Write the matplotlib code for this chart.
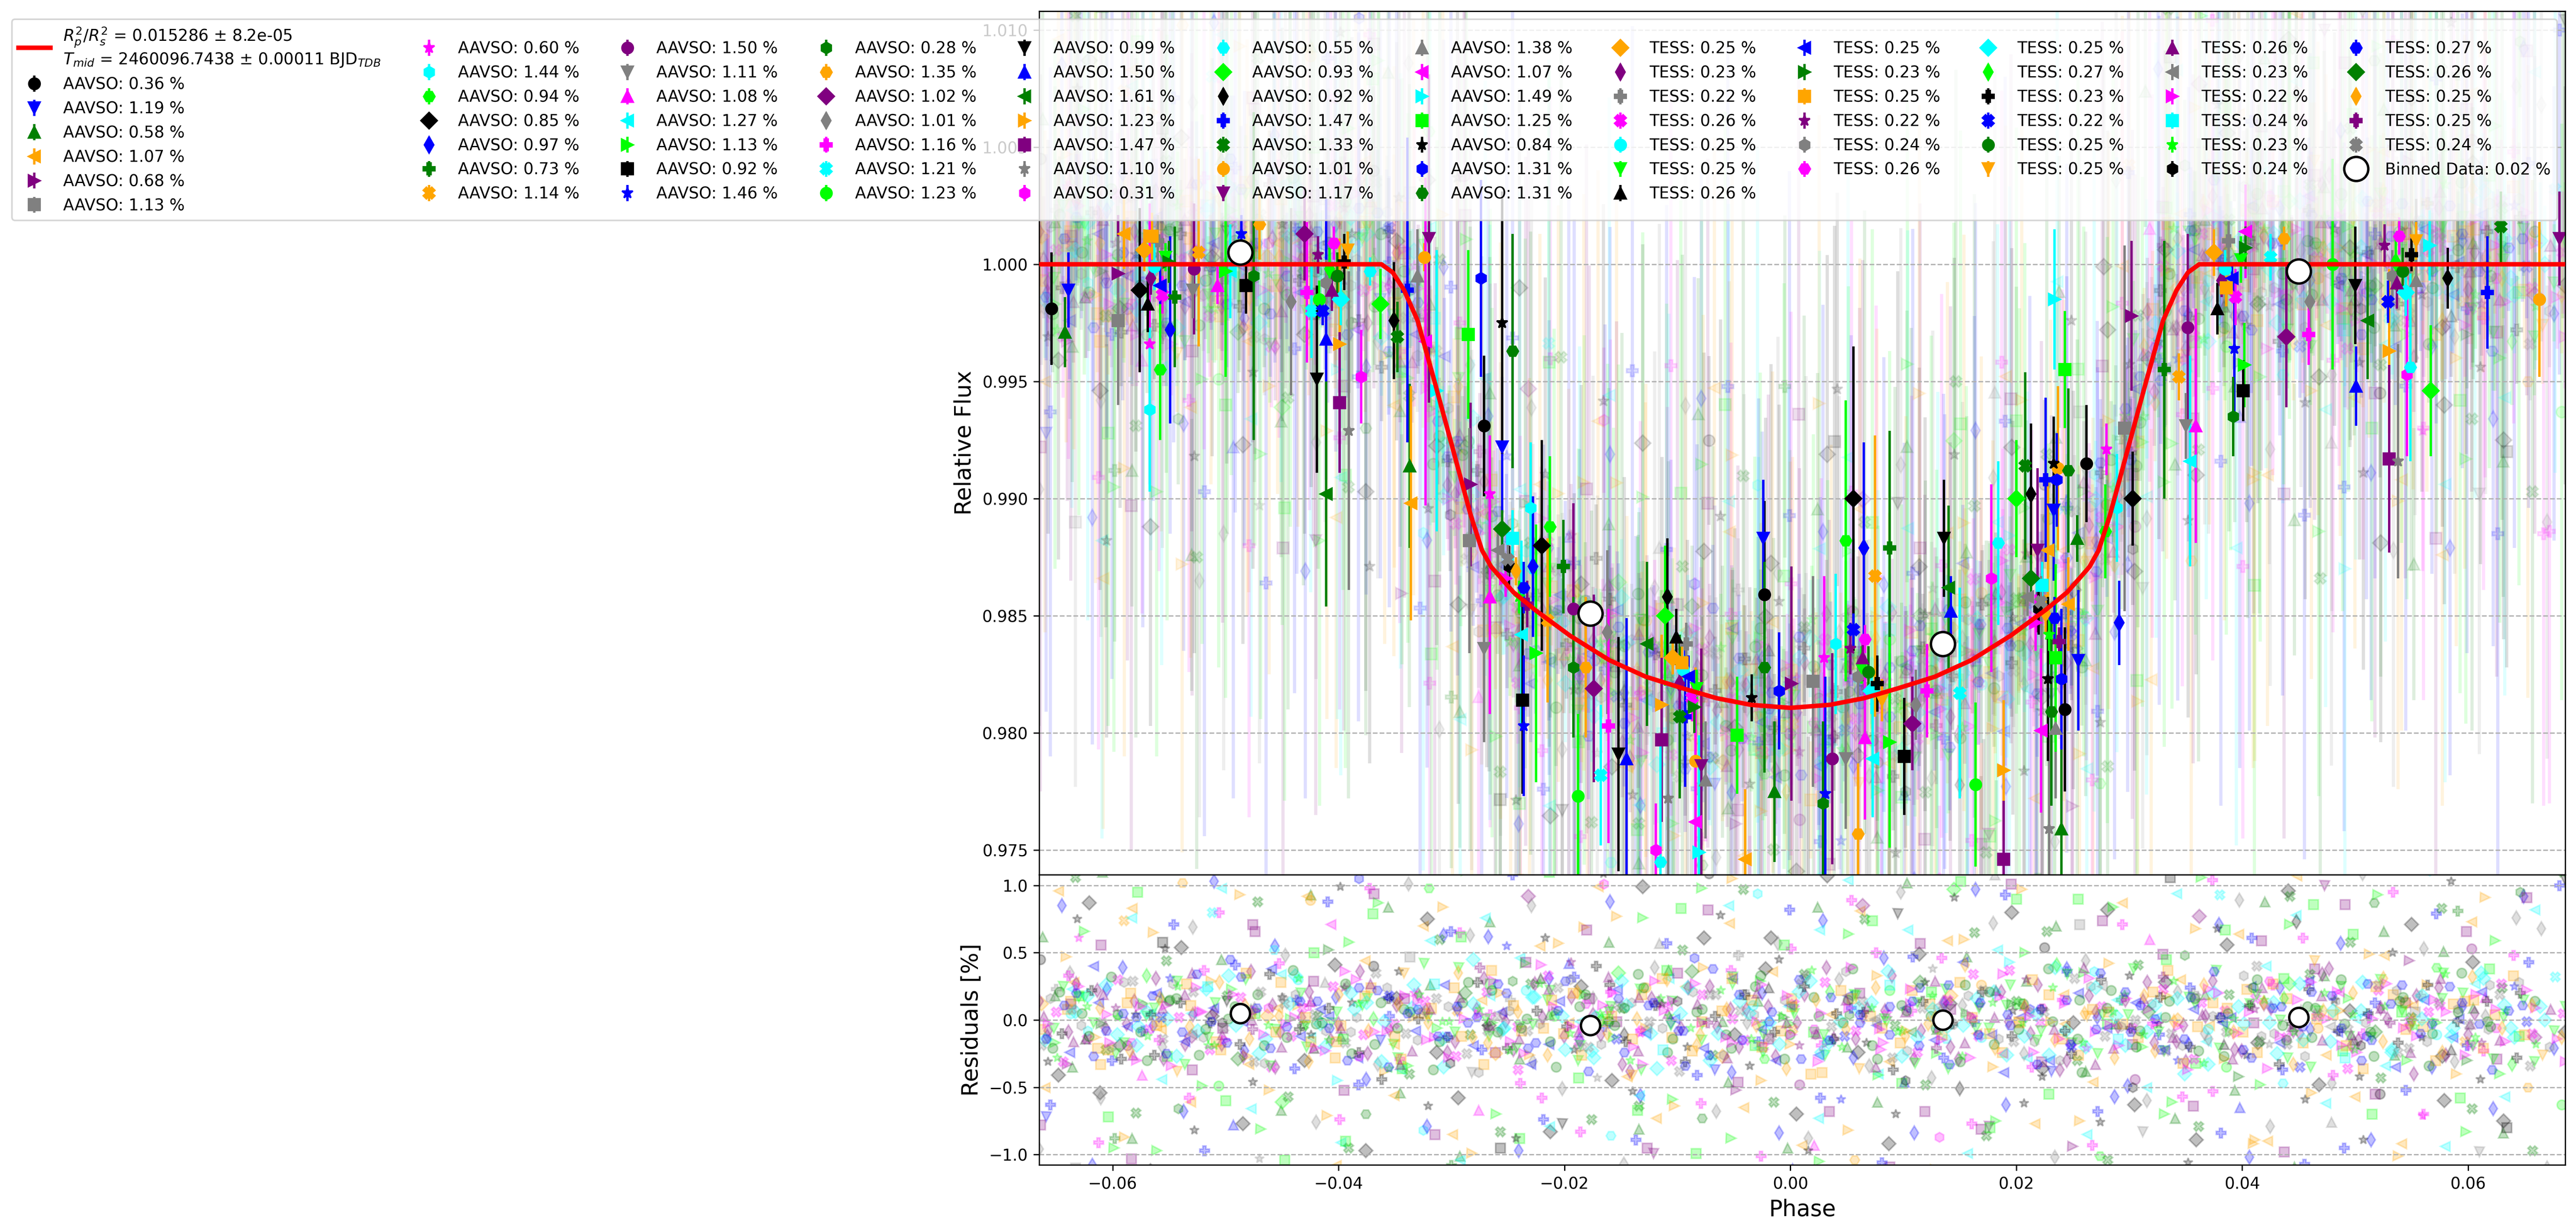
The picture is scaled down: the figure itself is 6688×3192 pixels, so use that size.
import numpy as np
import matplotlib.pyplot as plt

# red transit model
model_phase = [-0.0665, -0.0362, -0.0352, -0.0342, -0.0330, -0.0315, -0.0297, -0.0283, -0.0273,
               -0.0265, -0.0256, -0.0245, -0.0226, -0.0195, -0.0160, -0.0128, -0.0095, -0.0065,
               -0.0035, 0.0, 0.0035, 0.0065, 0.0095, 0.0128, 0.0160, 0.0195, 0.0226, 0.0245,
               0.0256, 0.0265, 0.0273, 0.0283, 0.0297, 0.0315, 0.0330, 0.0342, 0.0352, 0.0362, 0.0686]
model_flux = [1.0, 1.0, 0.99965, 0.9989, 0.9976, 0.9950, 0.9918, 0.9893, 0.9878,
              0.9871, 0.9866, 0.9860, 0.98525, 0.98415, 0.9831, 0.9824, 0.9819, 0.98148,
              0.9812, 0.98107, 0.9812, 0.98148, 0.9819, 0.9824, 0.9831, 0.98415, 0.98525, 0.9860,
              0.9866, 0.9871, 0.9878, 0.9893, 0.9918, 0.9950, 0.9976, 0.9989, 0.99965, 1.0, 1.0]

# scatter of every data set as printed in the legend [%]
aavso_std = [0.36, 1.19, 0.58, 1.07, 0.68, 1.13,
             0.60, 1.44, 0.94, 0.85, 0.97, 0.73, 1.14,
             1.50, 1.11, 1.08, 1.27, 1.13, 0.92, 1.46,
             0.28, 1.35, 1.02, 1.01, 1.16, 1.21, 1.23,
             0.99, 1.50, 1.61, 1.23, 1.47, 1.10, 0.31,
             0.55, 0.93, 0.92, 1.47, 1.33, 1.01, 1.17,
             1.38, 1.07, 1.49, 1.25, 0.84, 1.31, 1.31]
tess_std = [0.25, 0.23, 0.22, 0.26, 0.25, 0.25, 0.26,
            0.25, 0.23, 0.25, 0.22, 0.24, 0.26,
            0.25, 0.27, 0.23, 0.22, 0.25, 0.25,
            0.26, 0.23, 0.22, 0.24, 0.23, 0.24,
            0.27, 0.26, 0.25, 0.25, 0.24]

fit_label = ("$R^{2}_{p}/R^{2}_{s}$ = 0.015286 ± 8.2e-05\n"
             "$T_{mid}$ = 2460096.7438 ± 0.00011 BJD$_{TDB}$")

# combined binned data (white circles)
bin_phase = [-0.0487, -0.0177, 0.0135, 0.0450]
bin_flux = [1.0005, 0.9851, 0.9838, 0.9997]
bin_res = [0.05, -0.04, 0.00, 0.02]
bin_label = "Binned Data: 0.02 %"

# binned points of the single AAVSO data sets
aavso_bin_phase = [
    -0.0654, -0.0639, -0.0642, -0.0590, -0.0595, -0.0595, -0.0567, -0.0567, -0.0558, -0.0576,
    -0.0549, -0.0545, -0.0524, -0.0528, -0.0529, -0.0507, -0.0496, -0.0500, -0.0482, -0.0486,
    -0.0475, -0.0470, -0.0430, -0.0442, -0.0428, -0.0424, -0.0417, -0.0419, -0.0411, -0.0411,
    -0.0399, -0.0399, -0.0391, -0.0380, -0.0372, -0.0363, -0.0351, -0.0339, -0.0348, -0.0324,
    -0.0320, -0.0330, -0.0323, -0.0313, -0.0285, -0.0255, -0.0274, -0.0246, -0.0271, -0.0255,
    -0.0337, -0.0336, -0.0283, -0.0284, -0.0266, -0.0230, -0.0213, -0.0220, -0.0228, -0.0201,
    -0.0215, -0.0192, -0.0271, -0.0266, -0.0238, -0.0225, -0.0237, -0.0236, -0.0192, -0.0181,
    -0.0174, -0.0162, -0.0161, -0.0168, -0.0188, -0.0152, -0.0145, -0.0127, -0.0114, -0.0114,
    -0.0108, -0.0119, -0.0115, -0.0111, -0.0109, -0.0093, -0.0098, -0.0084, -0.0079, -0.0075,
    -0.0084, -0.0081, -0.0047, -0.0034, -0.0010, -0.0023, -0.0023, -0.0024, -0.0014, -0.0040,
    0.0001, 0.0020, 0.0030, 0.0040, 0.0049, 0.0056, 0.0065, 0.0088, 0.0075, 0.0037,
    0.0049, 0.0066, 0.0073, 0.0088, 0.0101, 0.0031, 0.0029, 0.0060, 0.0108, 0.0111,
    0.0121, 0.0150, 0.0164, 0.0136, 0.0142, 0.0140, 0.0189, 0.0189, 0.0229, 0.0178,
    0.0184, 0.0200, 0.0213, 0.0226, 0.0208, 0.0237, 0.0219, 0.0235, 0.0222, 0.0234,
    0.0243, 0.0233, 0.0236, 0.0246, 0.0262, 0.0233, 0.0254, 0.0228, 0.0302, 0.0296,
    0.0280, 0.0289, 0.0279, 0.0303, 0.0291, 0.0331, 0.0344, 0.0352, 0.0350, 0.0359,
    0.0354, 0.0402, 0.0401, 0.0393, 0.0392, 0.0437, 0.0439, 0.0460, 0.0459, 0.0425,
    0.0480, 0.0500, 0.0501, 0.0511, 0.0530, 0.0530, 0.0538, 0.0546, 0.0549, 0.0567,
    0.0582, 0.0617, 0.0629, 0.0663, 0.0681, 0.0554, 0.0403, 0.0566, 0.0235, 0.0228,
    0.0240, 0.0231, 0.0243, 0.0255, 0.0240, 0.0246]
aavso_bin_flux = [
    0.9981, 0.9989, 0.9971, 1.0013, 0.9996, 0.9976, 0.9966, 0.9938, 0.9955, 0.9989,
    0.9972, 0.9986, 1.0005, 0.9998, 0.9989, 0.9991, 0.9997, 0.9997, 0.9991, 1.0013,
    0.9995, 1.0017, 1.0013, 0.9984, 0.9988, 0.9980, 0.9985, 0.9951, 0.9968, 0.9902,
    0.9966, 0.9941, 0.9929, 0.9952, 0.9997, 0.9983, 0.9976, 0.9989, 0.9969, 1.0003,
    1.0011, 0.9995, 0.9967, 0.9946, 0.9970, 0.9975, 0.9994, 0.9963, 0.9931, 0.9922,
    0.9914, 0.9898, 0.9906, 0.9882, 0.9902, 0.9896, 0.9888, 0.9880, 0.9871, 0.9871,
    0.9848, 0.9853, 0.9836, 0.9858, 0.9842, 0.9834, 0.9814, 0.9803, 0.9828, 0.9828,
    0.9819, 0.9843, 0.9803, 0.9782, 0.9773, 0.9791, 0.9789, 0.9838, 0.9812, 0.9797,
    0.9772, 0.9750, 0.9745, 0.9850, 0.9858, 0.9807, 0.9807, 0.9788, 0.9786, 0.9780,
    0.9762, 0.9749, 0.9799, 0.9815, 0.9818, 0.9828, 0.9859, 0.9883, 0.9775, 0.9746,
    0.9821, 0.9822, 0.9832, 0.9838, 0.9882, 0.9900, 0.9879, 0.9879, 0.9867, 0.9789,
    0.9789, 0.9798, 0.9789, 0.9796, 0.9790, 0.9774, 0.9770, 0.9757, 0.9804, 0.9812,
    0.9818, 0.9817, 0.9778, 0.9883, 0.9852, 0.9862, 0.9784, 0.9746, 0.9759, 0.9866,
    0.9881, 0.9900, 0.9902, 0.9908, 0.9914, 0.9913, 0.9878, 0.9802, 0.9801, 0.9985,
    0.9955, 0.9915, 0.9908, 0.9912, 0.9915, 0.9895, 0.9883, 0.9878, 0.9978, 0.9930,
    0.9921, 0.9896, 0.9886, 0.9900, 0.9847, 0.9955, 0.9952, 0.9973, 0.9931, 0.9931,
    0.9916, 0.9957, 0.9946, 0.9964, 0.9935, 1.0011, 0.9969, 0.9984, 0.9970, 1.0003,
    1.0000, 0.9991, 0.9948, 0.9976, 0.9963, 0.9917, 0.9916, 0.9953, 0.9956, 0.9946,
    0.9994, 0.9988, 1.0016, 0.9985, 1.0011, 0.9993, 1.0014, 1.0008, 0.9832, 0.9823,
    0.9823, 0.9809, 0.9810, 0.9831, 0.9759, 0.9855]
aavso_bin_err = [
    0.0024, 0.0016, 0.0015, 0.0015, 0.0025, 0.0036, 0.0060, 0.0035, 0.0030, 0.0035,
    0.0040, 0.0030, 0.0040, 0.0028, 0.0012, 0.0008, 0.0020, 0.0045, 0.0012, 0.0008,
    0.0070, 0.0015, 0.0020, 0.0040, 0.0030, 0.0020, 0.0008, 0.0040, 0.0060, 0.0048,
    0.0045, 0.0030, 0.0068, 0.0020, 0.0006, 0.0015, 0.0025, 0.0065, 0.0015, 0.0006,
    0.0070, 0.0020, 0.0070, 0.0060, 0.0036, 0.0056, 0.0042, 0.0050, 0.0030, 0.0030,
    0.0035, 0.0050, 0.0035, 0.0048, 0.0025, 0.0028, 0.0030, 0.0045, 0.0030, 0.0020,
    0.0035, 0.0045, 0.0040, 0.0050, 0.0040, 0.0055, 0.0040, 0.0030, 0.0030, 0.0030,
    0.0040, 0.0035, 0.0050, 0.0030, 0.0035, 0.0050, 0.0060, 0.0035, 0.0030, 0.0035,
    0.0040, 0.0020, 0.0050, 0.0030, 0.0025, 0.0030, 0.0035, 0.0040, 0.0050, 0.0025,
    0.0050, 0.0050, 0.0025, 0.0010, 0.0025, 0.0045, 0.0040, 0.0025, 0.0030, 0.0030,
    0.0050, 0.0045, 0.0035, 0.0030, 0.0060, 0.0065, 0.0045, 0.0050, 0.0060, 0.0045,
    0.0030, 0.0035, 0.0025, 0.0045, 0.0025, 0.0050, 0.0035, 0.0030, 0.0020, 0.0015,
    0.0020, 0.0045, 0.0035, 0.0025, 0.0015, 0.0035, 0.0030, 0.0025, 0.0040, 0.0040,
    0.0035, 0.0025, 0.0030, 0.0035, 0.0040, 0.0035, 0.0035, 0.0030, 0.0035, 0.0030,
    0.0025, 0.0020, 0.0020, 0.0035, 0.0025, 0.0030, 0.0010, 0.0030, 0.0032, 0.0078,
    0.0011, 0.0023, 0.0020, 0.0020, 0.0018, 0.0055, 0.0010, 0.0040, 0.0014, 0.0050,
    0.0045, 0.0018, 0.0013, 0.0030, 0.0017, 0.0005, 0.0030, 0.0020, 0.0013, 0.0010,
    0.0045, 0.0025, 0.0017, 0.0025, 0.0035, 0.0040, 0.0050, 0.0035, 0.0040, 0.0028,
    0.0013, 0.0024, 0.0015, 0.0033, 0.0020, 0.0035, 0.0020, 0.0015, 0.0040, 0.0035,
    0.0030, 0.0040, 0.0035, 0.0030, 0.0050, 0.0020]

# binned points of the single TESS data sets (tight groups)
tess_bin_phase = [
    -0.0572, -0.0566, -0.0560, -0.0556, -0.0563, -0.0553, -0.0569, -0.0558, -0.0550, -0.0565,
    -0.0418, -0.0411, -0.0404, -0.0398, -0.0408, -0.0395, -0.0414, -0.0401, -0.0392, -0.0406,
    -0.0259, -0.0252, -0.0246, -0.0240, -0.0249, -0.0236, -0.0255, -0.0243, -0.0233, -0.0250,
    -0.0104, -0.0098, -0.0092, -0.0087, -0.0095, -0.0083, -0.0101, -0.0090, -0.0085, -0.0096,
    0.0053, 0.0060, 0.0066, 0.0072, 0.0063, 0.0077, 0.0056, 0.0069, 0.0081, 0.0064,
    0.0210, 0.0217, 0.0223, 0.0229, 0.0220, 0.0234, 0.0213, 0.0226, 0.0238, 0.0222,
    0.0375, 0.0382, 0.0388, 0.0394, 0.0385, 0.0399, 0.0378, 0.0391, 0.0403, 0.0386,
    0.0526, 0.0533, 0.0539, 0.0545, 0.0536, 0.0550, 0.0529, 0.0542, 0.0554, 0.0537]
tess_bin_flux = [
    1.0006, 0.9994, 1.0010, 0.9987, 0.9999, 1.0003, 0.9983, 0.9991, 1.0001, 1.0012,
    1.0004, 0.9992, 1.0009, 0.9985, 0.9998, 1.0001, 0.9980, 0.9995, 1.0006, 0.9989,
    0.9878, 0.9866, 0.9883, 0.9858, 0.9871, 0.9862, 0.9887, 0.9869, 0.9855, 0.9874,
    0.9832, 0.9821, 0.9838, 0.9815, 0.9827, 0.9819, 0.9841, 0.9824, 0.9811, 0.9830,
    0.9836, 0.9824, 0.9840, 0.9818, 0.9829, 0.9821, 0.9844, 0.9826, 0.9814, 0.9832,
    0.9858, 0.9847, 0.9863, 0.9842, 0.9853, 0.9849, 0.9866, 0.9851, 0.9839, 0.9856,
    1.0005, 0.9993, 1.0010, 0.9986, 0.9998, 1.0002, 0.9981, 0.9994, 1.0007, 0.9990,
    1.0008, 0.9995, 1.0012, 0.9988, 1.0001, 1.0004, 0.9984, 0.9997, 1.0010, 0.9992]
tess_bin_err = [
    0.0009, 0.0007, 0.0011, 0.0008, 0.0010, 0.0006, 0.0012, 0.0008, 0.0009, 0.0010,
    0.0008, 0.0010, 0.0007, 0.0011, 0.0009, 0.0012, 0.0006, 0.0010, 0.0008, 0.0009,
    0.0010, 0.0008, 0.0012, 0.0007, 0.0009, 0.0011, 0.0008, 0.0006, 0.0010, 0.0009,
    0.0007, 0.0011, 0.0009, 0.0010, 0.0006, 0.0008, 0.0012, 0.0009, 0.0011, 0.0007,
    0.0011, 0.0009, 0.0006, 0.0010, 0.0008, 0.0012, 0.0007, 0.0011, 0.0009, 0.0010,
    0.0008, 0.0012, 0.0010, 0.0007, 0.0011, 0.0009, 0.0010, 0.0008, 0.0006, 0.0011,
    0.0010, 0.0007, 0.0009, 0.0012, 0.0008, 0.0010, 0.0011, 0.0007, 0.0009, 0.0008,
    0.0009, 0.0011, 0.0008, 0.0010, 0.0012, 0.0007, 0.0009, 0.0010, 0.0008, 0.0011]

# unbinned points: phase [1e-4] and residual [0.01 %]
aavso_raw_phase = [
    -664, -659, -651, -648, -640, -633, -630, -622, -615, -611,
    -605, -598, -590, -587, -580, -574, -566, -561, -556, -549,
    -542, -538, -530, -523, -519, -512, -506, -499, -493, -488,
    -481, -474, -470, -462, -457, -450, -443, -439, -431, -425,
    -420, -412, -407, -401, -394, -388, -382, -376, -369, -363,
    -356, -351, -344, -337, -333, -325, -320, -313, -307, -300,
    -295, -289, -282, -276, -270, -264, -257, -251, -246, -239,
    -232, -228, -220, -214, -209, -202, -196, -190, -183, -178,
    -171, -165, -159, -152, -147, -140, -134, -128, -121, -116,
    -109, -103, -97, -91, -85, -78, -72, -67, -60, -54,
    -48, -41, -36, -29, -23, -17, -10, -5, 2, 8,
    14, 21, 26, 33, 39, 45, 52, 57, 64, 70,
    76, 83, 88, 95, 101, 107, 114, 119, 126, 132,
    138, 145, 150, 157, 163, 169, 176, 181, 188, 194,
    200, 207, 212, 219, 225, 231, 238, 243, 250, 256,
    262, 269, 274, 281, 287, 293, 300, 305, 312, 318,
    324, 331, 336, 343, 349, 355, 362, 367, 374, 380,
    386, 393, 398, 405, 411, 417, 424, 429, 436, 442,
    448, 455, 460, 467, 473, 479, 486, 491, 498, 504,
    510, 517, 522, 529, 535, 541, 548, 553, 560, 566,
    572, 579, 584, 591, 597, 603, 610, 615, 622, 628,
    634, 641, 646, 653, 659, 665, 672, 677, 683, 686]
aavso_raw_res = [
    45, -72, 18, 96, -33, -110, 61, -8, 127, -54,
    23, -88, 74, -19, 140, -41, 5, -97, 58, 31,
    -66, 102, -12, -135, 37, 80, -49, 14, -78, 115,
    -27, 66, -103, 9, 52, -61, 122, -36, -4, 89,
    -118, 28, 71, -45, -90, 13, 105, -70, 40, -15,
    84, -56, -131, 47, 20, -82, 98, -24, 63, -108,
    7, 134, -39, -67, 76, -2, -95, 55, 29, -120,
    92, -31, -58, 118, 3, -77, 42, -138, 69, 16,
    -43, 101, -86, 35, -11, 128, -64, 24, -99, 57,
    11, -125, 83, -20, 46, -73, 109, -37, -1, 72,
    -52, 19, -116, 94, -29, 61, -84, 137, -7, -48,
    30, -93, 67, -17, 112, -59, 4, -104, 85, -34,
    50, -128, 22, 79, -46, -9, 123, -68, 38, -87,
    -14, 97, -51, -136, 65, 26, -79, 108, -25, 43,
    90, -62, 8, -112, 54, -38, 131, -3, -94, 71,
    -21, 36, -101, 82, -57, 15, 119, -44, -83, 60,
    2, -70, 106, -30, 48, -124, 77, -10, -53, 93,
    -35, 126, -65, 10, -89, 59, -18, 115, -47, 27,
    73, -107, 34, -6, 100, -76, 21, -130, 64, -42,
    -12, 87, -55, 139, -26, -92, 44, 6, -71, 111,
    39, -60, -121, 81, -16, 53, -98, 17, 133, -40,
    -80, 25, 95, -50, -13, 68, -114, 32, -63, 104]
tess_raw_phase = [
    -663, -657, -650, -644, -637, -630, -624, -617, -610, -604,
    -597, -590, -583, -577, -570, -563, -557, -550, -543, -536,
    -530, -523, -516, -510, -503, -496, -489, -483, -476, -469,
    -463, -456, -449, -442, -436, -429, -422, -416, -409, -402,
    -395, -389, -382, -375, -369, -362, -355, -348, -342, -335,
    -328, -322, -315, -308, -301, -295, -288, -281, -275, -268,
    -261, -254, -248, -241, -234, -228, -221, -214, -207, -201,
    -194, -187, -181, -174, -167, -160, -154, -147, -140, -134,
    -127, -120, -113, -107, -100, -93, -87, -80, -73, -66,
    -60, -53, -46, -40, -33, -26, -19, -13, -6, 1,
    8, 14, 21, 28, 35, 41, 48, 55, 61, 68,
    75, 82, 88, 95, 102, 108, 115, 122, 129, 135,
    142, 149, 155, 162, 169, 176, 182, 189, 196, 202,
    209, 216, 223, 229, 236, 243, 249, 256, 263, 270,
    276, 283, 290, 296, 303, 310, 317, 323, 330, 337,
    343, 350, 357, 364, 370, 377, 384, 390, 397, 404,
    411, 417, 424, 431, 437, 444, 451, 458, 464, 471,
    478, 484, 491, 498, 505, 511, 518, 525, 531, 538,
    545, 552, 558, 565, 572, 578, 585, 592, 599, 605,
    612, 619, 625, 632, 639, 646, 652, 659, 666, 673]
tess_raw_res = [
    12, -8, 23, -31, 5, 17, -14, 40, -3, -22,
    9, 28, -17, -5, 33, -26, 2, 14, -38, 19,
    -11, 6, 25, -19, -2, 45, -29, 11, -7, 21,
    3, -35, 16, -12, 30, -4, -21, 8, 52, -16,
    24, -9, -27, 13, 1, -44, 18, -6, 35, -23,
    7, -15, 27, -1, -32, 10, 20, -13, 39, -8,
    -25, 4, 15, -37, 22, -3, 31, -18, 6, -10,
    43, -20, 12, -28, 0, 26, -14, 9, -41, 17,
    -6, 29, -22, 3, 14, -34, 36, -11, -2, 19,
    -27, 8, 48, -15, 11, -5, 24, -30, 2, 16,
    -19, 33, -7, -24, 21, 5, -12, 38, -36, 10,
    1, -17, 26, -9, -45, 14, 28, -3, -21, 7,
    18, -29, 4, 34, -13, -6, 22, -39, 12, -1,
    30, -16, 9, -26, 41, -8, -20, 15, 3, -33,
    25, -4, -14, 19, -50, 11, 6, -23, 32, -10,
    0, -31, 20, 13, -7, 37, -18, 2, -42, 23,
    8, -12, 29, -25, 16, -3, -35, 10, 44, -15,
    -5, 21, -28, 4, -19, 27, -9, 31, -2, -24,
    13, -40, 18, 6, -11, 35, -22, 1, -30, 15,
    -17, 26, -6, 11, -33, 20, -1, 14, -26, 8]

# further visits sampled at a steady cadence: phase span and residuals [0.01 %]
visit_tess_span = [(-0.0665, 0.0600), (-0.0652, 0.0686), (-0.0640, 0.0650), (-0.0660, 0.0668),
                   (-0.0647, 0.0620), (-0.0657, 0.0679), (-0.0643, 0.0636), (-0.0663, 0.0655),
                   (-0.0650, 0.0684), (-0.0638, 0.0612), (-0.0655, 0.0672), (-0.0645, 0.0643),
                   (-0.0661, 0.0628), (-0.0649, 0.0660), (-0.0611, 0.0683), (-0.0658, 0.0606),
                   (-0.0644, 0.0676), (-0.0664, 0.0640), (-0.0622, 0.0664), (-0.0653, 0.0617),
                   (-0.0605, 0.0686), (-0.0659, 0.0648)]
visit_tess_res = [
    [14, -9, 22, -3, 31, -18, 6, -27, 11, 2, -15, 36, -7, 19, -24, 8, -1, 27, -12, 4, -33, 16, -6, 25, -20,
     10, -2, 39, -14, 7, -29, 13, 0, 21, -10, -37, 18, -5, 28, -16, 3, -22, 12, -8, 34, -19, 9, -4, 24, -11],
    [-6, 17, -25, 3, 29, -13, 8, -34, 20, -2, 11, -18, 42, -9, 1, -21, 15, -30, 6, 23, -4, -15, 32, -11, 5,
     -26, 18, -1, 13, -36, 9, 26, -8, -17, 4, 38, -23, 12, -5, 19, -28, 7, -12, 30, -3, 16, -19, 2, -31, 10],
    [8, -21, 13, -4, 27, -16, 35, -9, 2, -28, 18, -12, 5, 24, -33, 11, -6, 20, -1, -14, 31, -23, 7, 15, -8,
     -40, 22, 3, -17, 12, 28, -10, -2, 19, -26, 6, -13, 37, -5, 9, -24, 16, 1, -19, 25, -7, -30, 14, 4, -11],
    [-15, 6, 26, -19, 1, -8, 33, -25, 12, -3, 20, -31, 9, -14, 45, -6, 17, -22, 2, 11, -36, 24, -10, 5, -18,
     29, -1, 13, -27, 8, -4, 21, -12, 39, -20, 3, -9, 16, -33, 10, -2, 27, -16, 7, -24, 18, -6, 31, -13, 0],
    [21, -12, 4, -30, 16, -7, 10, -19, 37, -2, -25, 13, 6, -16, 28, -9, 1, -35, 19, -4, 24, -14, 8, -21, 33,
     -11, 3, 15, -29, 7, -6, 26, -18, 12, -1, -39, 22, -8, 14, -23, 5, 30, -15, 9, -3, -27, 17, -10, 35, -5],
    [-3, 25, -17, 10, -34, 6, 19, -11, 2, -23, 30, -8, 14, -28, 4, -16, 41, -5, 11, -20, 7, 27, -13, -1, 18,
     -31, 9, -7, 23, -15, 3, 34, -24, 12, -9, 16, -2, -37, 20, 6, -12, 28, -19, 1, -6, 15, -26, 8, 22, -14],
    [11, -27, 5, 18, -9, -1, 32, -21, 14, -6, 24, -35, 8, -12, 2, 20, -17, 29, -4, -24, 13, -8, 38, -15, 6,
     -29, 17, -2, 10, -19, 26, -11, 4, -33, 15, -7, 21, 1, -14, 36, -22, 9, -5, 18, -30, 12, -10, 25, -3, 7],
    [-19, 8, -2, 29, -14, 21, -6, -31, 12, 4, -17, 35, -10, 16, -25, 3, -8, 24, -20, 11, -1, -38, 19, 7, -13,
     27, -5, 14, -28, 9, -3, 22, -16, 6, 31, -12, 0, -23, 17, -9, 40, -18, 5, -7, 26, -21, 13, -4, 19, -34],
    [6, -14, 30, -7, 2, -22, 17, -35, 9, 25, -11, -3, 14, -27, 21, -5, 33, -16, 8, -9, -30, 19, 1, -20, 12,
     28, -8, 4, -24, 15, -12, 37, -2, -17, 10, -6, 23, -29, 7, 16, -13, 3, -36, 22, -1, 11, -19, 27, -10, 5],
    [-24, 13, -5, 20, -16, 9, -1, 38, -12, 3, -28, 17, -8, 26, -19, 6, -33, 14, -3, 23, -10, 1, -21, 31, -7,
     11, -26, 18, -4, 9, -15, 43, -11, 2, -30, 20, -6, 13, -22, 8, -2, 25, -17, 29, -9, 4, -35, 15, -13, 21],
    [16, -4, -20, 11, 27, -13, 5, -32, 19, -8, 2, 24, -15, 10, -39, 7, -3, 30, -18, 13, -6, 21, -26, 4, 15,
     -11, 36, -1, -23, 9, 18, -14, 6, -30, 25, -5, 12, -19, 3, 33, -10, -27, 14, -2, 22, -16, 8, -7, 28, -20],
    [-10, 22, -29, 4, 13, -2, -18, 34, -7, 9, -24, 16, 1, -13, 28, -21, 7, -5, 40, -16, 11, -31, 3, 19, -9,
     25, -14, 6, -37, 14, -3, 21, -12, 8, -25, 30, -6, 17, -20, 2, 11, -33, 23, -8, 5, -17, 26, -1, 14, -28],
    [3, -16, 19, -26, 9, 35, -11, 0, -20, 14, -6, 27, -33, 8, 17, -4, -14, 23, -9, 32, -23, 5, 12, -28, 20,
     -2, -10, 15, -35, 6, 29, -17, 2, 11, -7, 39, -21, 16, -13, 4, -29, 24, -5, 18, -11, 9, -24, 31, -3, -15],
    [-28, 10, 2, -12, 25, -19, 7, -4, 31, -15, 12, -36, 19, -1, 8, -23, 27, -10, 5, -30, 16, -6, 22, -14, 3,
     37, -20, 9, -8, 18, -27, 13, -2, 24, -17, 6, -11, 29, -32, 1, 15, -9, 20, -22, 10, -5, 34, -13, 7, -18],
    [9, -23, 16, -5, 28, -14, 3, -31, 19, -8, 12, -2, 35, -17, 6, -26, 21, -10, 1, 30, -19, 8, -4, -36, 15,
     -7, 24, -12, 2, 41, -21, 10, -15, 5, -28, 18, -1, 26, -9, 13, -33, 7, 20, -16, 0, -24, 32, -6, 11, -13],
    [-12, 27, -6, 14, -29, 4, -18, 36, -9, 21, -3, -25, 11, 7, -16, 31, -22, 2, 17, -11, -38, 13, 24, -5, 8,
     -27, 19, -14, 3, 33, -8, -20, 12, -1, 26, -30, 6, 15, -17, -4, 29, -23, 9, -10, 38, -15, 1, 18, -26, 5],
    [25, -2, -17, 9, -33, 13, 30, -7, -20, 6, 16, -28, 2, 39, -12, -5, 22, -19, 10, -37, 14, -3, 27, -24, 8,
     -11, 19, 1, -32, 23, -6, 11, -15, 34, -25, 4, -9, 17, -21, 12, 0, -35, 25, -13, 7, -3, 20, -29, 15, -8],
    [-7, 14, -33, 20, -1, 11, -22, 5, 28, -16, -4, 24, -29, 9, -12, 37, -8, 15, -26, 3, 19, -13, -1, 31, -20,
     10, -39, 16, -6, 22, -11, 2, -24, 30, -14, 8, -3, 21, -32, 13, -9, 27, -17, 4, -36, 19, -5, 12, -21, 33],
    [18, -11, 6, -27, 23, -4, -14, 33, -20, 8, -1, 26, -35, 12, -7, 17, 3, -23, 29, -10, 5, -30, 14, -2, 21,
     -17, 9, 36, -13, -5, 16, -26, 4, -8, 24, -19, 11, -40, 20, -3, 13, -15, 7, 28, -22, 1, -12, 35, -6, 10],
    [-21, 5, 32, -9, 15, -26, 1, 19, -13, -3, 27, -18, 8, -37, 13, 22, -6, -16, 10, -1, 34, -24, 6, -11, 25,
     -29, 17, -2, -19, 11, 3, -31, 21, -7, 38, -14, 9, -20, 2, 16, -27, 24, -4, -13, 30, -9, 14, -34, 6, -1],
    [4, -30, 11, 24, -15, 7, -3, -21, 36, -9, 18, -13, 1, 29, -25, 10, -7, 20, -33, 14, -2, -17, 26, -11, 5,
     39, -22, 12, -6, -28, 17, 3, -14, 31, -19, 8, -5, 23, -10, -36, 15, 1, -24, 27, -12, 6, 19, -16, 9, -31],
    [-14, 20, -8, 2, -25, 34, -17, 9, -5, 14, -30, 22, 5, -12, -2, 27, -21, 7, -38, 16, 11, -8, -26, 19, -1,
     30, -15, 4, -11, 24, -33, 13, -4, 8, -18, 35, -9, -22, 17, 2, -28, 10, 21, -6, -15, 26, -3, 13, -37, 11]]
visit_aavso_span = [(-0.0662, 0.0631), (-0.0648, 0.0686), (-0.0636, 0.0659), (-0.0665, 0.0670),
                    (-0.0641, 0.0615), (-0.0655, 0.0681), (-0.0630, 0.0645), (-0.0660, 0.0603),
                    (-0.0645, 0.0676), (-0.0651, 0.0624), (-0.0639, 0.0667), (-0.0664, 0.0652),
                    (-0.0633, 0.0684), (-0.0657, 0.0611)]
visit_aavso_res = [
    [62, -35, 110, -88, 17, -124, 45, 8, -67, 93, -12, 131, -54, 26, -101, 73, -29, 4, -139, 58, -81, 37, 119,
     -46, 14, -95, 84, -20, -61, 102, -7, 47, -116, 29, 70, -38, -3, 125, -73, 19, -52, 88, -109, 33, -15, 66,
     -128, 51, 9, -84],
    [-41, 87, -19, -112, 54, 3, -77, 120, -30, 41, -97, 16, 75, -58, -4, 132, -83, 25, -45, 99, -126, 61, -11,
     38, -70, 107, -24, -92, 49, 12, -137, 80, -36, -2, 114, -63, 28, -89, 56, -17, 96, -48, 7, -119, 71, -27,
     43, -75, 123, -9],
    [23, -118, 76, -44, 5, 98, -66, 34, -13, -91, 128, -37, 59, -104, 18, 46, -79, -1, 113, -56, 31, -132, 85,
     -21, 10, -73, 104, -40, 67, -6, -99, 52, -28, 136, -85, 15, -50, 94, -16, -121, 40, 78, -62, 1, -34, 117,
     -94, 27, -57, 82],
    [-96, 35, -58, 127, -20, 69, -115, 8, 48, -76, 24, -33, 101, -141, 63, -9, 85, -51, 16, -107, 39, 121, -68,
     -2, 57, -88, 30, -130, 95, -43, 11, 72, -25, -102, 44, 133, -60, 21, -14, 89, -79, 6, -47, 109, -122, 53,
     -31, 3, 76, -110],
    [47, -13, -87, 65, -128, 29, 93, -52, 11, -71, 116, -38, 2, 84, -99, 20, -26, 57, -133, 77, -6, -64, 39,
     105, -45, -18, 129, -82, 33, -8, -111, 60, -35, 97, -1, -75, 42, -123, 18, 68, -29, -92, 114, -54, 7, 49,
     -101, 26, -40, 91],
    [-63, 124, -30, -8, 71, -97, 41, -136, 15, 88, -48, 3, -119, 66, -22, 108, -74, 32, -5, -89, 57, -41, 134,
     -16, 82, -58, 9, -106, 47, -28, -1, 93, -126, 36, -68, 117, -11, 24, -84, 61, -37, 129, -95, 13, -52, 79,
     -19, -115, 43, 100],
    [18, -72, 95, -27, 139, -60, 5, -104, 50, -14, 79, -36, -121, 62, 27, -88, 110, -43, 1, -67, 37, -99, 126,
     -19, 56, -9, -130, 74, -47, 21, 103, -80, 12, -55, 90, -3, -113, 45, -32, 67, -137, 31, 86, -23, -70, 6,
     120, -58, 38, -12],
    [-50, 28, -134, 83, -7, -61, 118, -33, 9, 92, -108, 44, -18, 70, -85, 15, -127, 55, -2, 99, -42, -73, 25,
     132, -65, 36, -93, 4, 81, -31, -116, 59, -10, 112, -77, 19, -46, 87, -135, 30, -4, 64, -90, 107, -26, -57,
     48, 11, -124, 73],
    [85, -108, 39, -4, -68, 103, -23, 55, -131, 17, -44, 121, -79, 8, 62, -97, 31, -15, 88, -56, -1, 126, -39,
     20, -112, 74, -28, 46, -84, 13, 97, -63, -136, 38, 2, -49, 115, -18, 71, -102, 24, -7, 57, -89, 135, -35,
     10, -66, 92, -21],
    [-17, 66, -95, 12, 130, -49, 23, -81, 1, -118, 58, 87, -34, -6, 111, -70, 42, -127, 19, -13, 76, -59, 98,
     -88, 29, -3, -105, 64, -41, 137, -25, 5, -75, 50, -138, 35, 84, -20, -61, 106, -9, -48, 71, -114, 16, 93,
     -30, -2, -83, 59],
    [33, -91, 127, -15, -58, 80, -120, 42, 11, -74, 98, -29, -136, 65, 4, -47, 112, -83, 21, -8, 136, -62, 37,
     -101, 53, -19, 89, -124, 7, 46, -77, 119, -35, 15, -93, 71, -3, -57, 104, -129, 26, 61, -41, -10, 95, -70,
     130, -23, 48, -115],
    [-78, 12, 56, -103, 140, -37, -6, 71, -121, 29, -52, 94, 16, -85, 119, -24, 43, -133, 67, -1, -95, 35, 82,
     -46, -14, 125, -68, 20, -109, 57, 8, -81, 101, -31, -127, 74, -18, 49, -64, 113, -2, -98, 38, 86, -55, 13,
     -117, 66, -29, 91],
    [106, -22, -69, 44, -125, 18, 88, -57, 3, -95, 131, -40, 60, -11, -83, 27, 116, -74, 9, -138, 52, -26, 97,
     -61, 34, -113, 75, -4, -48, 122, -86, 14, 66, -30, -104, 41, 128, -79, 19, -16, 92, -134, 58, -43, 2, 83,
     -66, 24, -97, 110],
    [-31, 75, -118, 4, 53, -82, 139, -46, 17, -11, 99, -129, 36, -64, 123, -5, -88, 61, -22, 109, -53, 12, -140,
     78, -34, 45, -97, 134, -17, -70, 28, 91, -121, 7, -42, 114, -76, 33, -3, -106, 68, -26, 137, -59, 15, -89,
     50, -13, 103, -44]]

colors = ['black', 'blue', 'green', 'orange', 'purple', 'grey', 'magenta', 'cyan', 'lime']
markers = ['o', 'v', '^', '<', '>', 's', '*', 'h', 'H', 'D', 'd', 'P', 'X']


def members(n, first, count):
    # consecutive points go to consecutive data sets
    return first + np.arange(n) % count


n_a = len(aavso_std)
n_t = len(tess_std)
scatter = np.array(aavso_std + tess_std)
labels = ["AAVSO: %.2f %%" % s for s in aavso_std] + ["TESS: %.2f %%" % s for s in tess_std]

na = min(len(aavso_raw_phase), len(aavso_raw_res))
nt = min(len(tess_raw_phase), len(tess_raw_res))
ph_parts = [np.array(aavso_raw_phase[:na]) / 1e4, np.array(tess_raw_phase[:nt]) / 1e4]
res_parts = [np.array(aavso_raw_res[:na]) / 100., np.array(tess_raw_res[:nt]) / 100.]
set_parts = [members(na, 0, n_a), members(nt, n_a, n_t)]
for i, (span, row) in enumerate(zip(visit_tess_span, visit_tess_res)):
    ph_parts.append(np.linspace(span[0], span[1], len(row)))
    res_parts.append(np.array(row) / 100.)
    set_parts.append(np.full(len(row), n_a + (4 * i + 1) % n_t))
for i, (span, row) in enumerate(zip(visit_aavso_span, visit_aavso_res)):
    ph_parts.append(np.linspace(span[0], span[1], len(row)))
    res_parts.append(np.array(row) / 100.)
    set_parts.append(np.full(len(row), (7 * i + 2) % n_a))
raw_phase = np.concatenate(ph_parts)
raw_res = np.concatenate(res_parts)
raw_set = np.concatenate(set_parts)
raw_flux = np.interp(raw_phase, model_phase, model_flux) + raw_res / 100.

ba = min(len(aavso_bin_phase), len(aavso_bin_flux), len(aavso_bin_err))
bt = min(len(tess_bin_phase), len(tess_bin_flux), len(tess_bin_err))
sb_phase = np.array(aavso_bin_phase[:ba] + tess_bin_phase[:bt])
sb_flux = np.array(aavso_bin_flux[:ba] + tess_bin_flux[:bt])
sb_err = np.array(aavso_bin_err[:ba] + tess_bin_err[:bt])
sb_set = np.concatenate([members(ba, 0, n_a), members(bt, n_a, n_t)])

W, H, DPI = 6688, 3192, 300
fig = plt.figure(figsize=(W / DPI, H / DPI), dpi=DPI)
ax_lc = fig.add_axes([2698 / W, 1 - 2270 / H, 3962 / W, 2241 / H])
ax_res = fig.add_axes([2698 / W, 1 - 3023 / H, 3962 / W, 753 / H], sharex=ax_lc)

handles = []
for k in range(n_a + n_t):
    c = colors[k % len(colors)]
    mk = markers[k % len(markers)]
    m = raw_set == k
    ax_lc.errorbar(raw_phase[m], raw_flux[m], yerr=scatter[k] / 100., fmt=mk, color=c,
                   ms=7, elinewidth=2, alpha=0.13, zorder=1)
    ax_res.plot(raw_phase[m], raw_res[m], mk, color=c, ms=6, alpha=0.25, zorder=1)
    m2 = sb_set == k
    h = ax_lc.errorbar(sb_phase[m2], sb_flux[m2], yerr=sb_err[m2], fmt=mk, color=c,
                       ms=7, zorder=2, label=labels[k])
    handles.append(h)

fit_line, = ax_lc.plot(model_phase, model_flux, 'r', lw=2.8, zorder=3, label=fit_label)
bh, = ax_lc.plot(bin_phase, bin_flux, 'o', ms=15, mfc='white', mec='black', mew=1.5,
                 zorder=4, label=bin_label)
ax_res.plot(bin_phase, bin_res, 'o', ms=12, mfc='white', mec='black', mew=1.5, zorder=4)

ax_lc.legend(handles=[fit_line] + handles + [bh], loc='upper right', ncol=12, fontsize=10)

ax_lc.set_xlim(-0.0665, 0.0686)
ax_lc.set_ylim(0.97395, 1.0108)
ax_res.set_ylim(-1.077, 1.08)
ax_lc.set_yticks([0.975, 0.980, 0.985, 0.990, 0.995, 1.000, 1.005, 1.010])
ax_res.set_yticks([-1.0, -0.5, 0.0, 0.5, 1.0])
ax_lc.tick_params(labelbottom=False)
ax_lc.grid(True, axis='y', ls='--')
ax_res.grid(True, axis='y', ls='--')

ax_lc.set_ylabel("Relative Flux", fontsize=14)
ax_res.set_ylabel("Residuals [%]", fontsize=14)
ax_res.set_xlabel("Phase", fontsize=14)

fig.savefig("out.png", dpi=DPI)
